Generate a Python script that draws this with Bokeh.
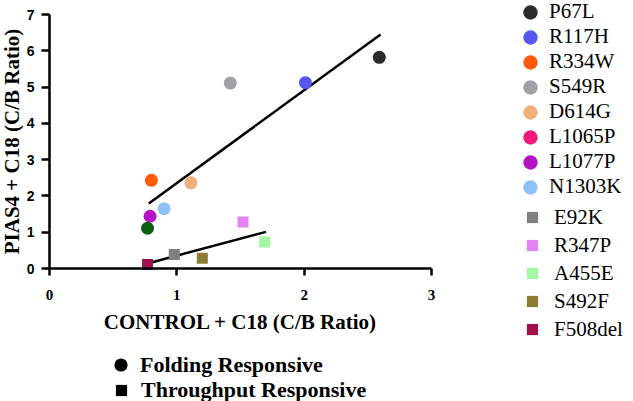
import numpy as np
from bokeh.plotting import figure
from bokeh.models import Legend, LegendItem, FixedTicker, Range1d, ColumnDataSource, LinearAxis
from bokeh.embed import file_html
from bokeh.resources import INLINE

# ---- data ----
fold_names = ["P67L", "R117H", "R334W", "S549R", "D614G", "L1065P", "L1077P", "N1303K"]
fold_x = [2.59, 2.01, 0.80, 1.42, 1.11, 0.77, 0.79, 0.90]
fold_y = [5.82, 5.12, 2.43, 5.11, 2.36, 1.11, 1.44, 1.65]
fold_colors = ["#2b2b2b", "#5656f2", "#ff5a0c", "#a0a0a6", "#f0b07c", "#0b5e10", "#b412c2", "#8fc1f6"]
fold_legend_colors = ["#2b2b2b", "#5656f2", "#ff5a0c", "#a0a0a6", "#f0b07c", "#f2197a", "#b412c2", "#8fc1f6"]

thr_names = ["E92K", "R347P", "A455E", "S492F", "F508del"]
thr_x = [0.98, 1.52, 1.69, 1.20, 0.77]
thr_y = [0.385, 1.28, 0.73, 0.28, 0.11]
thr_colors = ["#808080", "#e384f6", "#a3f7a3", "#8c7c34", "#a0104c"]

fold_fit_x = [0.78, 2.60]
fold_fit_y = [1.79, 6.45]
thr_fit_x = [0.77, 1.70]
thr_fit_y = [0.14, 1.01]

x_ticks = [0, 1, 2, 3]
y_ticks = [0, 1, 2, 3, 4, 5, 6, 7]

group_labels = ["Folding Responsive", "Throughput Responsive"]

# ---- layout constants (canvas pixels) ----
FIG_W, FIG_H = 633, 401
X_LO_PX, X_HI_PX = 49, 431     # where x=0 and x=3 fall
Y_LO_PX, Y_HI_PX = 268, 14     # where y=0 and y=7 fall (from top)
x_lo, x_hi = x_ticks[0], x_ticks[-1]
y_lo, y_hi = y_ticks[0], y_ticks[-1]
kx = (X_HI_PX - X_LO_PX) / (x_hi - x_lo)
ky = (Y_LO_PX - Y_HI_PX) / (y_hi - y_lo)

p = figure(width=FIG_W, height=FIG_H,
           min_border_left=0, min_border_right=0, min_border_top=0, min_border_bottom=0,
           x_range=Range1d(x_lo - X_LO_PX / kx, x_hi + (FIG_W - X_HI_PX) / kx),
           y_range=Range1d(y_lo - (FIG_H - Y_LO_PX) / ky, y_hi + Y_HI_PX / ky),
           x_axis_location=None, y_axis_location=None,
           output_backend="svg", toolbar_location=None)
p.outline_line_color = None
p.background_fill_color = "white"
p.border_fill_color = "white"
p.grid.visible = False

xaxis = LinearAxis(fixed_location=y_lo, bounds=(x_lo, x_hi), ticker=FixedTicker(ticks=x_ticks))
yaxis = LinearAxis(fixed_location=x_lo, bounds=(y_lo, y_hi), ticker=FixedTicker(ticks=y_ticks))
for ax in (xaxis, yaxis):
    ax.axis_line_width = 2.5
    ax.axis_line_color = "black"
    ax.major_tick_line_width = 2.5
    ax.major_tick_line_color = "black"
    ax.major_tick_in = 0
    ax.minor_tick_line_color = None
    ax.major_label_text_color = "black"
    ax.axis_label_text_color = "black"
    ax.axis_label_text_font = "Liberation Serif"
    ax.axis_label_text_font_style = "bold"
    ax.axis_label_text_font_size = "21px"

xaxis.major_tick_out = 7
yaxis.major_tick_out = 8
xaxis.major_label_text_font = "Liberation Serif"
xaxis.major_label_text_font_style = "bold"
xaxis.major_label_text_font_size = "15px"
xaxis.major_label_standoff = 14
yaxis.major_label_text_font = "Liberation Sans"
yaxis.major_label_text_font_style = "bold"
yaxis.major_label_text_font_size = "14px"
yaxis.major_label_standoff = 7
xaxis.axis_label = "CONTROL + C18 (C/B Ratio)"
yaxis.axis_label = "PIAS4 + C18 (C/B Ratio)"
xaxis.axis_label_standoff = 7
yaxis.axis_label_standoff = 0
p.add_layout(xaxis, "below")
p.add_layout(yaxis, "left")

# fit lines
p.line(fold_fit_x, fold_fit_y, line_width=2.5, line_color="black")
p.line(thr_fit_x, thr_fit_y, line_width=2.5, line_color="black")

# points
src_f = ColumnDataSource(dict(x=fold_x, y=fold_y, c=fold_colors))
p.scatter("x", "y", source=src_f, marker="circle", size=13, fill_color="c", line_color=None)
src_t = ColumnDataSource(dict(x=thr_x, y=thr_y, c=thr_colors))
p.scatter("x", "y", source=src_t, marker="square", size=11, fill_color="c", line_color=None)

# legend-only renderers (no data)
nan = [np.nan]
fold_items = []
for n, c in zip(fold_names, fold_legend_colors):
    r = p.ellipse(nan, nan, width=14, height=14, width_units="screen", height_units="screen",
                  fill_color=c, line_color=None)
    fold_items.append(LegendItem(label=n, renderers=[r]))
thr_items = []
for n, c in zip(thr_names, thr_colors):
    r = p.scatter(nan, nan, marker="square", fill_color=c, line_color=None)
    thr_items.append(LegendItem(label=n, renderers=[r]))

def mk_legend(items, loc, g, row_h, standoff, size, style="normal"):
    return Legend(items=items, location=loc, glyph_width=g, glyph_height=g,
                  label_height=row_h, spacing=0, label_standoff=standoff,
                  padding=0, margin=0, border_line_color=None, background_fill_alpha=0,
                  label_text_font="Liberation Serif", label_text_font_size=size,
                  label_text_font_style=style, label_text_color="black")

p.add_layout(mk_legend(fold_items, (521, 202), 18, 25, 10, "21px"))
p.add_layout(mk_legend(thr_items, (518, 58), 28, 28, 8, "21px"))

rc = p.scatter(nan, nan, marker="circle", fill_color="black", line_color=None)
rs = p.scatter(nan, nan, marker="square", fill_color="black", line_color=None)
p.add_layout(mk_legend([LegendItem(label=group_labels[0], renderers=[rc])], (104, 20), 33, 33, 3, "22px", "bold"))
p.add_layout(mk_legend([LegendItem(label=group_labels[1], renderers=[rs])], (107, -3), 28, 28, 6, "22px", "bold"))

open("out.html", "w").write(file_html(p, INLINE))
